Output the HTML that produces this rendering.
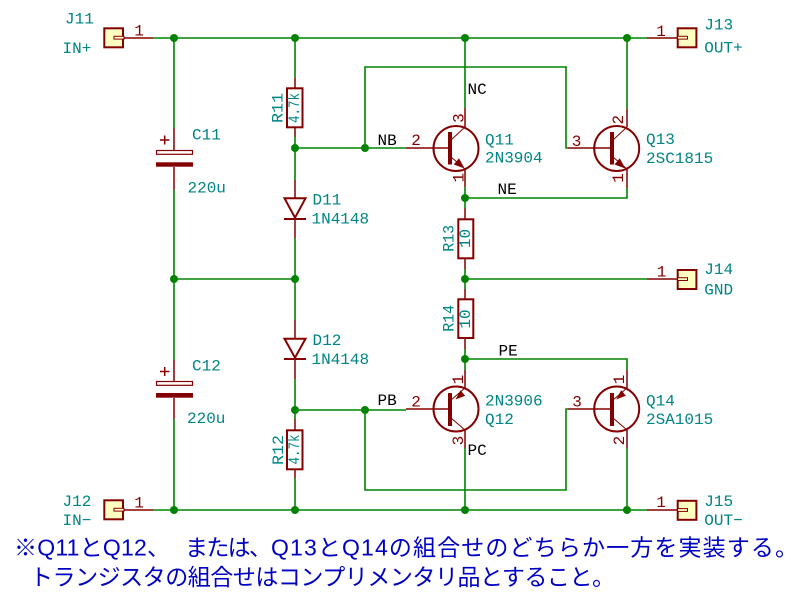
<!DOCTYPE html>
<html>
<head>
<meta charset="utf-8">
<style>
html,body{margin:0;padding:0;background:#fff;}
body{width:800px;height:600px;overflow:hidden;}
svg{display:block;}
.t{font-family:"Liberation Mono","DejaVu Sans Mono",monospace;font-size:16px;}
.teal{fill:#008484;}
.red{fill:#840000;}
.blk{fill:#000;}
.jp{font-family:"Liberation Sans","Noto Sans CJK JP",sans-serif;font-size:23px;fill:#0000c2;}
</style>
</head>
<body>
<svg width="800" height="600" viewBox="0 0 800 600" xmlns="http://www.w3.org/2000/svg">
<rect width="800" height="600" fill="#fff"/>

<!-- green wires -->
<g stroke="#008400" stroke-width="1.6" fill="none">
  <path d="M153 38 H647"/>
  <path d="M153 510 H647"/>
  <path d="M174 38 V128 M174 190 V360 M174 419 V510"/>
  <path d="M174 279 H295"/>
  <path d="M295 38 V78 M295 137 V180 M295 238 V320 M295 379 V419 M295 478 V510"/>
  <path d="M295 148 H406"/>
  <path d="M365 148 V67 H566 V148 H568"/>
  <path d="M465 38 V108 M465 187 V208 M465 269 V289 M465 349 V370 M465 448 V510"/>
  <path d="M465 198 H627 V188"/>
  <path d="M465 279 H647"/>
  <path d="M465 359 H627 V370"/>
  <path d="M627 38 V109"/>
  <path d="M627 448 V510"/>
  <path d="M295 410 H406"/>
  <path d="M365 410 V490 H566 V409 H568"/>
</g>

<!-- red pins / leads -->
<g stroke="#840000" stroke-width="1.5" fill="none">
  <path d="M124 38 H153 M124 510 H153 M647 38 H677 M647 279 H677 M647 510 H677"/>
  <path d="M174 128 V150 M174 167 V190 M174 360 V381 M174 398 V419"/>
  <path d="M295 78 V88 M295 128 V137 M295 180 V198 M295 219 V238 M295 320 V339 M295 359 V379 M295 419 V430 M295 469 V478"/>
  <path d="M465 208 V219 M465 258 V269 M465 289 V299 M465 338 V349"/>
  <!-- transistor pins -->
  <path d="M406 148 H450 M465 127 V108 M465 169 V187"/>
  <path d="M568 148 H612 M627 127 V109 M627 169 V188"/>
  <path d="M406 409 H450 M465 388 V370 M465 430 V448"/>
  <path d="M568 409 H612 M627 388 V370 M627 430 V448"/>
  <!-- cap plus signs -->
  <path d="M160 140 H169.5 M164.7 135.5 V144.5"/>
  <path d="M160 371.5 H169.5 M164.7 367 V376"/>
</g>

<!-- capacitors -->
<g stroke="#840000" fill="#fff" stroke-width="1.2">
  <rect x="156.5" y="150.5" width="36" height="3.8"/>
  <rect x="156.5" y="381.5" width="36" height="3.8"/>
</g>
<g fill="#840000">
  <rect x="156" y="162.3" width="37" height="4.4"/>
  <rect x="156" y="393" width="37" height="4.7"/>
</g>

<!-- resistors -->
<g stroke="#840000" stroke-width="2" fill="none">
  <rect x="287" y="88.3" width="15.5" height="39"/>
  <rect x="287" y="430.3" width="15.5" height="39"/>
  <rect x="458.3" y="219.3" width="15" height="39"/>
  <rect x="458.3" y="299.3" width="15" height="38.7"/>
</g>

<!-- diodes -->
<g stroke="#840000" stroke-width="2" fill="none">
  <path d="M284.5 198.3 H305.5 L295 217.7 Z"/>
  <path d="M284 219 H306"/>
  <path d="M284.5 338.7 H305.5 L295 357.7 Z"/>
  <path d="M284 359 H306"/>
</g>

<!-- transistors -->
<g stroke="#840000" fill="none">
  <!-- Q11 NPN -->
  <circle cx="456" cy="148.5" r="22.5" stroke-width="2"/>
  <path d="M450 132 V164.5" stroke-width="4"/>
  <path d="M451 140 L465 127 M451 157 L465 169" stroke-width="1"/>
  <!-- Q13 NPN -->
  <circle cx="616.7" cy="148.5" r="22.5" stroke-width="2"/>
  <path d="M612 132 V164.5" stroke-width="4"/>
  <path d="M613 140 L627 127 M613 157 L627 169" stroke-width="1"/>
  <!-- Q12 PNP -->
  <circle cx="456" cy="409" r="22.5" stroke-width="2"/>
  <path d="M450 393 V426" stroke-width="4"/>
  <path d="M451 400 L465 388 M451 418 L465 430" stroke-width="1"/>
  <!-- Q14 PNP -->
  <circle cx="616.7" cy="409" r="22.5" stroke-width="2"/>
  <path d="M612 393 V426" stroke-width="4"/>
  <path d="M613 400 L627 388 M613 418 L627 430" stroke-width="1"/>
</g>
<g fill="#840000">
  <polygon points="464.5,168.5 453.8,164.5 459,158.3"/>
  <polygon points="625.2,168.5 614.5,164.5 619.7,158.3"/>
  <polygon points="455.5,399.5 465.1,395.8 460.5,390.2"/>
  <polygon points="616.2,399.5 625.8,395.8 621.2,390.2"/>
</g>

<!-- connectors -->
<g stroke="#840000" stroke-width="2" fill="#ffffc2">
  <rect x="104.3" y="28.3" width="18.7" height="19"/>
  <rect x="104.3" y="500.3" width="18.7" height="19"/>
  <rect x="677.7" y="28.3" width="18.7" height="19"/>
  <rect x="677.7" y="270" width="18.7" height="19"/>
  <rect x="677.7" y="500.8" width="18.7" height="19"/>
</g>
<g stroke="#840000" stroke-width="1" fill="#ffffc2">
  <rect x="114" y="36.3" width="10" height="2.8"/>
  <rect x="114" y="508.3" width="10" height="2.8"/>
  <rect x="677.5" y="36.3" width="10" height="2.8"/>
  <rect x="677.5" y="277.7" width="10" height="2.8"/>
  <rect x="677.5" y="508.6" width="10" height="2.8"/>
</g>

<!-- junctions -->
<g fill="#008400">
  <circle cx="174" cy="38" r="4"/>
  <circle cx="295" cy="38" r="4"/>
  <circle cx="465" cy="38" r="4"/>
  <circle cx="627" cy="38" r="4"/>
  <circle cx="295" cy="148" r="4"/>
  <circle cx="365" cy="148" r="4"/>
  <circle cx="465" cy="198" r="4"/>
  <circle cx="174" cy="279" r="4"/>
  <circle cx="295" cy="279" r="4"/>
  <circle cx="465" cy="279" r="4"/>
  <circle cx="465" cy="359" r="4"/>
  <circle cx="295" cy="410" r="4"/>
  <circle cx="365" cy="410" r="4"/>
  <circle cx="174" cy="510" r="4"/>
  <circle cx="295" cy="510" r="4"/>
  <circle cx="465" cy="510" r="4"/>
  <circle cx="627" cy="510" r="4"/>
</g>

<!-- teal reference/value labels -->
<g class="t teal">
  <text x="65" y="23.3">J11</text>
  <text x="62.5" y="53">IN+</text>
  <text x="192" y="139.3">C11</text>
  <text x="187.5" y="192.7">220u</text>
  <text x="312.5" y="204.3">D11</text>
  <text x="311.5" y="223.3">1N4148</text>
  <text x="192" y="370.5">C12</text>
  <text x="187" y="423">220u</text>
  <text x="312.5" y="345">D12</text>
  <text x="311.5" y="364">1N4148</text>
  <text x="62.5" y="506">J12</text>
  <text x="62.5" y="525">IN−</text>
  <text x="485" y="144.3">Q11</text>
  <text x="485" y="162.7">2N3904</text>
  <text x="646" y="144">Q13</text>
  <text x="646" y="163">2SC1815</text>
  <text x="704.3" y="29.3">J13</text>
  <text x="704.3" y="52.5">OUT+</text>
  <text x="704.3" y="274">J14</text>
  <text x="704.3" y="294.3">GND</text>
  <text x="485" y="405.5">2N3906</text>
  <text x="485" y="424">Q12</text>
  <text x="646" y="405.5">Q14</text>
  <text x="646" y="424">2SA1015</text>
  <text x="704.3" y="506">J15</text>
  <text x="704.3" y="525">OUT−</text>
  <text x="278.5" y="108" text-anchor="middle" dominant-baseline="central" transform="rotate(-90 278.5 108)" textLength="30" lengthAdjust="spacingAndGlyphs">R11</text>
  <text x="295" y="108" text-anchor="middle" dominant-baseline="central" transform="rotate(-90 295 108)" textLength="30" lengthAdjust="spacingAndGlyphs">4.7k</text>
  <text x="279" y="450" text-anchor="middle" dominant-baseline="central" transform="rotate(-90 279 450)" textLength="30" lengthAdjust="spacingAndGlyphs">R12</text>
  <text x="295" y="449.5" text-anchor="middle" dominant-baseline="central" transform="rotate(-90 295 449.5)" textLength="30" lengthAdjust="spacingAndGlyphs">4.7k</text>
  <text x="449.7" y="238.3" text-anchor="middle" dominant-baseline="central" transform="rotate(-90 449.7 238.3)" textLength="27" lengthAdjust="spacingAndGlyphs">R13</text>
  <text x="465.8" y="238.5" text-anchor="middle" dominant-baseline="central" transform="rotate(-90 465.8 238.5)">10</text>
  <text x="449.7" y="318.3" text-anchor="middle" dominant-baseline="central" transform="rotate(-90 449.7 318.3)" textLength="27" lengthAdjust="spacingAndGlyphs">R14</text>
  <text x="465.8" y="319" text-anchor="middle" dominant-baseline="central" transform="rotate(-90 465.8 319)">10</text>
</g>

<!-- red pin numbers -->
<g class="t red" text-anchor="middle">
  <text x="139" y="35.7">1</text>
  <text x="139" y="507.5">1</text>
  <text x="661" y="36">1</text>
  <text x="661.5" y="276.7">1</text>
  <text x="661" y="507">1</text>
  <text x="416" y="145">2</text>
  <text x="576.5" y="146">3</text>
  <text x="416" y="406.5">2</text>
  <text x="577" y="406.5">3</text>
  <text x="459.5" y="118" dominant-baseline="central" transform="rotate(-90 459.5 118)">3</text>
  <text x="459.5" y="177.7" dominant-baseline="central" transform="rotate(-90 459.5 177.7)">1</text>
  <text x="619" y="119.7" dominant-baseline="central" transform="rotate(-90 619 119.7)">2</text>
  <text x="619" y="178" dominant-baseline="central" transform="rotate(-90 619 178)">1</text>
  <text x="459" y="379.5" dominant-baseline="central" transform="rotate(-90 459 379.5)">1</text>
  <text x="459" y="440.5" dominant-baseline="central" transform="rotate(-90 459 440.5)">3</text>
  <text x="620" y="379.5" dominant-baseline="central" transform="rotate(-90 620 379.5)">1</text>
  <text x="620" y="440.5" dominant-baseline="central" transform="rotate(-90 620 440.5)">2</text>
</g>

<!-- net labels -->
<g class="t blk">
  <text x="467.5" y="94">NC</text>
  <text x="377.5" y="145">NB</text>
  <text x="497.5" y="194">NE</text>
  <text x="498.5" y="355.5">PE</text>
  <text x="377.5" y="405">PB</text>
  <text x="467.5" y="455">PC</text>
</g>

<!-- Japanese note -->
<g class="jp">
  <text x="14" y="555.5" textLength="156" lengthAdjust="spacing">※Q11とQ12、</text>
  <text x="185" y="555.5" textLength="87" lengthAdjust="spacing">または、</text>
  <text x="271" y="555.5" textLength="527" lengthAdjust="spacing">Q13とQ14の組合せのどちらか一方を実装する。</text>
  <text x="30" y="585" textLength="585" lengthAdjust="spacing">トランジスタの組合せはコンプリメンタリ品とすること。</text>
</g>
</svg>
</body>
</html>
